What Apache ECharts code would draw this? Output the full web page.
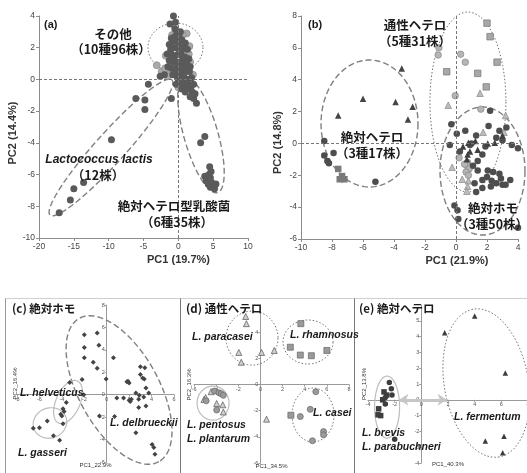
<!DOCTYPE html>
<html>
<head>
<meta charset="utf-8">
<script src="https://cdn.jsdelivr.net/npm/echarts@6/dist/echarts.min.js"></script>
<style>html,body{margin:0;background:#fff}#main{width:527px;height:473px}</style>
</head>
<body>
<div id="main"></div>
<script>
// (a) 全株 PC1-PC2
var aOtherDark = [[-0.7,4.0],[-1.2,3.5],[-0.4,3.6],[-0.2,3.0],[0.3,3.0],[-1.0,2.6],[-0.5,2.7],[0.0,2.4],[0.5,2.5],[1.0,2.3],[-1.3,2.2],[-0.8,2.0],[-0.3,2.0],[0.2,2.1],[0.8,2.0],[1.3,1.9],[-1.6,1.6],[-1.0,1.6],[-0.5,1.5],[0.0,1.6],[0.5,1.5],[1.0,1.4],[1.5,1.3],[-1.3,1.2],[-0.7,1.1],[-0.2,1.1],[0.3,1.0],[0.8,1.0],[1.3,0.9],[-1.5,0.8],[-1.0,0.7],[-0.4,0.6],[0.1,0.6],[0.6,0.5],[1.1,0.5],[1.6,0.5],[-0.8,0.3],[-0.2,0.2],[0.4,0.2],[0.9,0.1],[1.4,0.0],[1.9,0.1],[0.2,-0.2],[0.7,-0.3],[1.2,-0.4],[0.5,-0.6],[1.0,-0.5],[-0.6,2.4],[0.1,2.8],[-1.1,1.9],[0.6,1.2],[-0.1,0.9],[1.7,0.8],[-0.5,3.2],[0.4,1.8],[0.9,0.7],[-0.9,1.3],[1.2,1.1],[0.0,0.0],[-0.3,-0.3]];
var aOtherLight = [[1.2,2.9],[1.6,2.1],[1.5,1.6],[-1.8,1.5],[-3.1,0.9],[-2.4,0.5],[-1.9,0.7],[-0.9,2.8],[0.6,1.8],[-0.6,0.9],[0.9,0.8],[-0.1,0.4],[0.4,-0.1],[-1.2,0.4],[1.7,1.1],[-0.3,2.3],[0.0,-0.5],[1.1,-0.1],[-1.5,0.2],[0.6,2.8],[2.1,0.3]];
var aLactis = [[-4.3,-0.3],[-6.1,-1.2],[-4.8,-1.3],[-4.8,-1.9],[-9.6,-3.8],[-13.6,-6.5],[-15.0,-6.9],[-15.5,-7.6],[-17.1,-8.4],[-1.0,-1.2],[-2.0,0.3],[-2.6,0.2]];
var aHetero = [[1.8,-0.5],[2.0,-0.8],[1.7,-1.1],[2.2,-1.2],[2.6,-1.5],[2.2,-0.3],[1.5,-0.3],[1.0,-0.8],[2.4,-0.9],[3.8,-3.6],[3.2,-4.0],[4.5,-5.5],[4.7,-5.8],[3.8,-6.1],[4.1,-6.2],[4.4,-6.0],[4.0,-6.4],[4.8,-6.5],[5.0,-6.7],[5.2,-6.9],[4.6,-6.8],[5.4,-6.6],[4.3,-6.6],[4.6,-6.2],[1.3,-0.6]];

// (b) 乳酸菌 3群
var bHeteroTri = [[-3.5,4.7],[-6.0,2.8],[-3.9,2.6],[-2.8,2.3],[-7.6,1.75],[-3.1,1.5]];
var bHeteroCircle = [[-8.5,0.15],[-8.5,-0.75],[-8.3,-1.1],[-8.2,-1.25],[-7.9,-0.6],[-5.2,-2.4]];
var bHeteroSquare = [[-7.6,-1.6],[-7.5,-2.25],[-7.2,-2.25],[-7.35,-2.05]];
var bFacSquare = [[2.0,7.55],[2.2,6.7],[2.65,5.1],[1.4,4.4],[1.95,3.55],[-0.6,4.5]];
var bFacCircle = [[-1.1,6.0],[-1.15,5.55],[0.3,5.6],[0.6,5.1],[-0.05,3.0],[1.6,2.15],[0.2,-0.9],[0.75,-1.2],[0.7,-1.4],[0.85,-1.6],[0.65,-1.8],[0.8,-2.0],[0.55,-1.3]];
var bFacTri = [[-0.5,2.4],[1.55,3.15],[1.75,0.7],[3.1,0.7],[3.2,1.75],[-0.25,-1.5],[0.4,-2.25],[0.8,-2.35],[0.75,-2.7],[0.7,-3.0]];
var bHomoCircle = [[-0.3,1.2],[0.05,0.6],[0.6,0.8],[1.3,0.5],[2.1,1.1],[2.2,2.05],[2.8,0.8],[3.25,1.0],[3.0,0.2],[4.0,-0.3],[-0.4,-0.1],[0.25,-0.5],[1.0,0.0],[1.7,-0.7],[1.4,-1.1],[2.05,-1.7],[2.4,-1.8],[2.8,-1.9],[2.3,-2.35],[2.6,-2.5],[3.0,-2.6],[3.2,-2.6],[1.7,-2.3],[1.7,-2.8],[1.3,-3.05],[2.25,-2.7],[-0.1,-3.9],[0.1,-4.2],[0.15,-4.75],[4.0,-5.3],[1.4,-1.7],[1.1,-1.4],[2.0,-2.1],[3.5,-2.3],[1.9,-0.2],[2.6,0.35],[3.6,-0.1],[1.2,-2.5],[2.9,-2.2],[0.9,-0.1]];
var bHomoTri = [[0.8,0.05],[0.45,-0.2],[0.9,-0.5],[1.4,-0.4],[2.05,0.0],[2.5,0.05],[0.75,-0.7],[1.25,0.15],[0.7,-1.0],[3.0,0.5]];

// (c) 絶対ホモ
var cDelbrueckii = [[-0.85,5.5],[-2.0,5.35],[-0.7,4.4],[-2.0,4.2],[-2.0,3.3],[0.6,3.3],[-1.2,2.9],[-0.85,2.35],[-0.05,1.4],[-2.2,1.35],[1.8,1.15],[2.0,1.05],[3.0,2.5],[3.4,2.4],[3.0,1.8],[3.2,1.5],[3.35,1.4],[2.6,0.15],[3.5,0.6],[1.5,-0.3],[2.0,-0.5],[2.2,-0.4],[3.3,-0.2],[2.85,-0.4],[3.75,0.15],[0.9,-0.3],[2.85,-1.15],[3.5,-1.0],[-0.65,-1.9],[0.7,-1.95],[2.6,-3.4],[4.05,-4.45],[4.2,-4.7],[4.3,-5.3],[1.9,1.2],[2.1,-0.6],[2.9,-0.05]];
var cHelveticus = [[-3.3,1.1],[-3.9,-1.25],[-4.1,-1.75],[-4.0,-1.9],[-3.6,-0.7],[-2.05,0.0],[-3.8,-1.5]];
var cGasseri = [[-6.55,-3.0],[-6.0,-2.95],[-5.3,-2.35],[-4.75,-3.65],[-4.2,-4.05],[-3.9,-2.6]];

// (d) 通性ヘテロ
var dParacasei = [[-1.33,5.2],[-1.27,4.65],[-1.95,2.45],[-1.73,1.7],[0.1,2.45],[1.25,2.6]];
var dRhamnosus = [[3.65,4.65],[2.7,2.85],[3.6,2.25],[4.6,2.2],[6.0,2.6],[2.75,-2.35]];
var dCasei = [[5.0,-0.55],[4.5,-1.9],[3.6,-2.45],[5.7,-3.6],[5.7,-3.85],[4.7,-4.3]];
var dPentosus = [[-4.45,-0.55],[-4.95,-1.0],[-5.1,-1.15],[-3.95,-1.45],[-3.4,-1.55],[-3.35,-2.1],[0.55,-2.65]];
var dPlantarum = [[-4.15,-0.5],[-3.75,-0.63],[-3.55,-0.7],[-3.35,-0.83],[-4.9,-1.25],[-3.95,-1.95]];

// (e) 絶対ヘテロ
var eFermentum = [[1.75,4.25],[4.0,5.3],[6.3,1.7],[4.8,-2.6],[6.2,-2.3],[6.1,-3.35]];
var eBrevis = [[-2.8,0.5],[-2.9,0.0],[-3.2,-0.57],[-3.25,-0.95],[-3.05,-1.0],[-2.6,0.3]];
var eParabuchneri = [[-2.4,1.1],[-2.25,0.7],[-2.2,0.3],[-2.7,0.15],[-2.7,-0.27],[-2.0,-2.5]];

// axis ranges of the lower panels [min, max, step]
var cXRange = [-8, 6, 2], cYRange = [-6, 8, 2];
var dXRange = [-6, 8, 2], dYRange = [-6, 6, 2];
var eXRange = [-4, 8, 2], eYRange = [-4, 6, 1];

// group outlines: centre (data), half axes (px), angle (deg), line kind
var aRings = [[-0.41,2.01,27.5,24.5,0,0],[-9.67,-4.29,91,15,-48,1],[3.25,-3.5,60,17,74,1]];
var bRings = [[0.77,2.6,38,90,0,0],[-5.58,1.25,48.5,63.5,0,1],[1.71,-1.73,42.5,64,0,1]];
var cRings = [[1.1,0.42,82,40,61,1],[-3.45,-0.65,23,12,-66,2],[-5.06,-2.52,17,15,-20,2]];
var dRings = [[-0.76,3.55,26,27,0,0],[4.3,3.25,25,22,0,0],[4.75,-2.33,21,27,0,0],[-4.28,-1.42,16,17,0,2]];
var eRings = [[4.87,1.06,75,42,80,0],[-2.57,-0.46,12.5,31,0,2]];

var latin = '"Liberation Sans", Arial, sans-serif';
var jp = '"Noto Sans CJK JP", sans-serif';

var grids = [
  {left: 39, top: 16, width: 209, height: 222},
  {left: 301, top: 16, width: 217, height: 223},
  {left: 17, top: 305, width: 157, height: 157},
  {left: 194, top: 306, width: 155, height: 157},
  {left: 368, top: 305, width: 160, height: 158}
];
grids.forEach(function (g) { g.outerBoundsMode = 'none'; });

var ringStyles = [
  {stroke: '#707070', lineWidth: 1, lineDash: [1.5, 2]},
  {stroke: '#808080', lineWidth: 1.4, lineDash: [6, 3]},
  {stroke: '#bdbdbd', lineWidth: 1.2}
];

function ringItem(params, api) {
  var c = api.coord([api.value(0), api.value(1)]);
  var rx = api.value(2), ry = api.value(3), t = api.value(4) * Math.PI / 180;
  var p = [];
  for (var i = 0; i < 90; i++) {
    var s = i / 90 * Math.PI * 2;
    var ex = rx * Math.cos(s), ey = ry * Math.sin(s);
    p.push([c[0] + ex * Math.cos(t) - ey * Math.sin(t), c[1] + ex * Math.sin(t) + ey * Math.cos(t)]);
  }
  var st = ringStyles[api.value(5)];
  return {type: 'polygon', shape: {points: p}, style: {fill: 'none', stroke: st.stroke, lineWidth: st.lineWidth, lineDash: st.lineDash}};
}

function rings(data, gi) {
  return {type: 'custom', xAxisIndex: gi, yAxisIndex: gi, data: data, renderItem: ringItem, silent: true, z: 2};
}

function pts(data, gi, symbol, size, color, border) {
  return {
    type: 'scatter', xAxisIndex: gi, yAxisIndex: gi, data: data, symbol: symbol, symbolSize: size, silent: true, z: 3,
    itemStyle: {color: color, borderColor: border || color, borderWidth: border ? 0.7 : 0, opacity: 1}
  };
}

function boxAxis(gi, min, max, step, name, gap, pad) {
  return {
    type: 'value', gridIndex: gi, min: min, max: max, interval: step,
    name: name, nameLocation: 'middle', nameGap: gap,
    nameTextStyle: {fontFamily: latin, fontSize: 11, fontWeight: 'bold', color: '#333', padding: pad},
    axisLine: {onZero: false, lineStyle: {color: '#8c8c8c'}},
    axisTick: {length: 3, lineStyle: {color: '#8c8c8c'}},
    axisLabel: {fontFamily: latin, fontSize: 8.5, color: '#444', margin: 4},
    splitLine: {show: false}
  };
}

// axes of the lower panels cross at 0: shift them in from the grid edge
function crossAxis(gi, range, other, isX, name, gap, hideMax) {
  var g = grids[gi];
  var span = isX ? g.height : g.width;
  var shift = span * (0 - other[0]) / (other[1] - other[0]);
  return {
    type: 'value', gridIndex: gi, min: range[0], max: range[1], interval: range[2],
    offset: -shift,
    name: name, nameLocation: 'middle', nameGap: gap,
    nameTextStyle: {fontFamily: latin, fontSize: 6, color: '#333'},
    axisLine: {onZero: false, lineStyle: {color: '#9a9a9a'}},
    axisTick: {length: 2, lineStyle: {color: '#9a9a9a'}},
    axisLabel: {fontFamily: latin, fontSize: 5.5, color: '#555', margin: 2, showMaxLabel: !hideMax},
    splitLine: {show: false}
  };
}

var cross = {
  silent: true, symbol: 'none', label: {show: false},
  lineStyle: {color: '#777', type: [3, 2], width: 1},
  data: [{xAxis: 0}, {yAxis: 0}]
};

function txt(x, y, s, font, align) {
  return {type: 'text', z: 10, style: {x: x, y: y, text: s, font: font, fill: '#1a1a1a', align: align || 'center', verticalAlign: 'middle'}};
}

var bJP = 'bold 12.5px ' + jp;
var bIt = 'italic bold 12px ' + latin;
var sIt = 'italic bold 10.5px ' + latin;
var sJP = 'bold 11.5px ' + jp;

var darkA = '#5a5a5a', lightA = '#a9a9a9';

var series = [
  rings(aRings, 0),
  Object.assign(pts(aOtherLight, 0, 'circle', 7, lightA, '#8a8a8a'), {markLine: cross}),
  pts(aOtherDark, 0, 'circle', 7, darkA),
  pts(aLactis, 0, 'circle', 7, darkA),
  pts(aHetero, 0, 'circle', 7, darkA),

  rings(bRings, 1),
  Object.assign(pts(bFacSquare, 1, 'rect', 6.5, '#a8a8a8', '#777'), {markLine: cross}),
  pts(bFacCircle, 1, 'circle', 6.5, '#b5b5b5', '#888'),
  pts(bFacTri, 1, 'triangle', 6.5, '#bdbdbd', '#888'),
  pts(bHeteroTri, 1, 'triangle', 6.5, '#444'),
  pts(bHeteroCircle, 1, 'circle', 6.5, '#4d4d4d'),
  pts(bHeteroSquare, 1, 'rect', 6.5, '#7a7a7a'),
  pts(bHomoCircle, 1, 'circle', 6.5, '#4d4d4d'),
  pts(bHomoTri, 1, 'triangle', 6.5, '#404040'),

  rings(cRings, 2),
  pts(cDelbrueckii, 2, 'diamond', 5, '#444'),
  pts(cHelveticus, 2, 'diamond', 5, '#444'),
  pts(cGasseri, 2, 'diamond', 5, '#444'),

  rings(dRings, 3),
  pts(dParacasei, 3, 'triangle', 6, '#cfcfcf', '#555'),
  pts(dRhamnosus, 3, 'rect', 6, '#9a9a9a', '#666'),
  pts(dCasei, 3, 'circle', 6, '#9a9a9a', '#666'),
  pts(dPentosus, 3, 'triangle', 6, '#cfcfcf', '#555'),
  pts(dPlantarum, 3, 'circle', 6, '#9a9a9a', '#666'),

  rings(eRings, 4),
  pts(eFermentum, 4, 'triangle', 5.5, '#3d3d3d'),
  Object.assign(pts(eBrevis, 4, 'rect', 5.5, '#3d3d3d'), {
    markLine: {
      silent: true, symbol: ['arrow', 'arrow'], symbolSize: [9, 9], label: {show: false},
      lineStyle: {color: '#c6c6c6', type: 'solid', width: 3},
      data: [[{coord: [-1.65, 0]}, {coord: [1.9, 0]}]]
    }
  }),
  pts(eParabuchneri, 4, 'circle', 5.5, '#3d3d3d')
];

var chart = echarts.init(document.getElementById('main'));
chart.setOption({
  backgroundColor: '#fff',
  animation: false,
  grid: grids,
  xAxis: [
    boxAxis(0, -20, 10, 5, 'PC1 (19.7%)', 16, [0, 0, 0, 70]),
    boxAxis(1, -10, 4, 2, 'PC1 (21.9%)', 16, [0, 0, 0, 95]),
    crossAxis(2, cXRange, cYRange, true, 'PC1_22.9%', 68),
    crossAxis(3, dXRange, dYRange, true, 'PC1_34.5%', 79),
    crossAxis(4, eXRange, eYRange, true, 'PC1_40.3%', 62)
  ],
  yAxis: [
    boxAxis(0, -10, 4, 2, 'PC2 (14.4%)', 12, [0, 12, 0, 0]),
    boxAxis(1, -6, 8, 2, 'PC2 (14.8%)', 18, [0, 30, 0, 0]),
    crossAxis(2, cYRange, cXRange, false, 'PC2_16.4%', 88),
    crossAxis(3, dYRange, dXRange, false, 'PC2_16.3%', 68, true),
    crossAxis(4, eYRange, eXRange, false, 'PC2_13.8%', 54, true)
  ],
  series: series,
  graphic: [
    {type: 'line', shape: {x1: 5, y1: 298.5, x2: 527, y2: 298.5}, style: {stroke: '#cfcfcf', lineWidth: 1}},
    {type: 'line', shape: {x1: 5.5, y1: 298.5, x2: 5.5, y2: 473}, style: {stroke: '#9a9a9a', lineWidth: 1}},
    {type: 'line', shape: {x1: 180.5, y1: 298.5, x2: 180.5, y2: 473}, style: {stroke: '#777', lineWidth: 1}},
    {type: 'line', shape: {x1: 354.5, y1: 298.5, x2: 354.5, y2: 473}, style: {stroke: '#777', lineWidth: 1}},

    txt(44, 25, '(a)', 'bold 11px ' + latin, 'left'),
    txt(113, 34, 'その他', bJP),
    txt(111, 49, '（10種96株）', bJP),
    txt(99, 160, 'Lactococcus lactis', bIt),
    txt(98, 175, '（12株）', bJP),
    txt(174, 206, '絶対ヘテロ型乳酸菌', bJP),
    txt(177, 222, '（6種35株）', bJP),

    txt(308, 25, '(b)', 'bold 11px ' + latin, 'left'),
    txt(415, 25, '通性ヘテロ', bJP),
    txt(415, 41, '（5種31株）', bJP),
    txt(372, 137, '絶対ヘテロ', bJP),
    txt(372, 153, '（3種17株）', bJP),
    txt(493, 208, '絶対ホモ', bJP),
    txt(492, 224, '（3種50株）', bJP),

    txt(12, 309, '(c) 絶対ホモ', sJP, 'left'),
    txt(20, 393, 'L. helveticus', sIt, 'left'),
    txt(18, 453, 'L. gasseri', sIt, 'left'),
    txt(110, 423, 'L. delbrueckii', sIt, 'left'),

    txt(186, 309, '(d) 通性ヘテロ', sJP, 'left'),
    txt(192, 337, 'L. paracasei', sIt, 'left'),
    txt(290, 335, 'L. rhamnosus', sIt, 'left'),
    txt(313, 413, 'L. casei', sIt, 'left'),
    txt(187, 425, 'L. pentosus', sIt, 'left'),
    txt(187, 439, 'L. plantarum', sIt, 'left'),

    txt(359, 309, '(e) 絶対ヘテロ', sJP, 'left'),
    txt(454, 417, 'L. fermentum', sIt, 'left'),
    txt(362, 433, 'L. brevis', sIt, 'left'),
    txt(362, 447, 'L. parabuchneri', sIt, 'left')
  ]
});
</script>
</body>
</html>
